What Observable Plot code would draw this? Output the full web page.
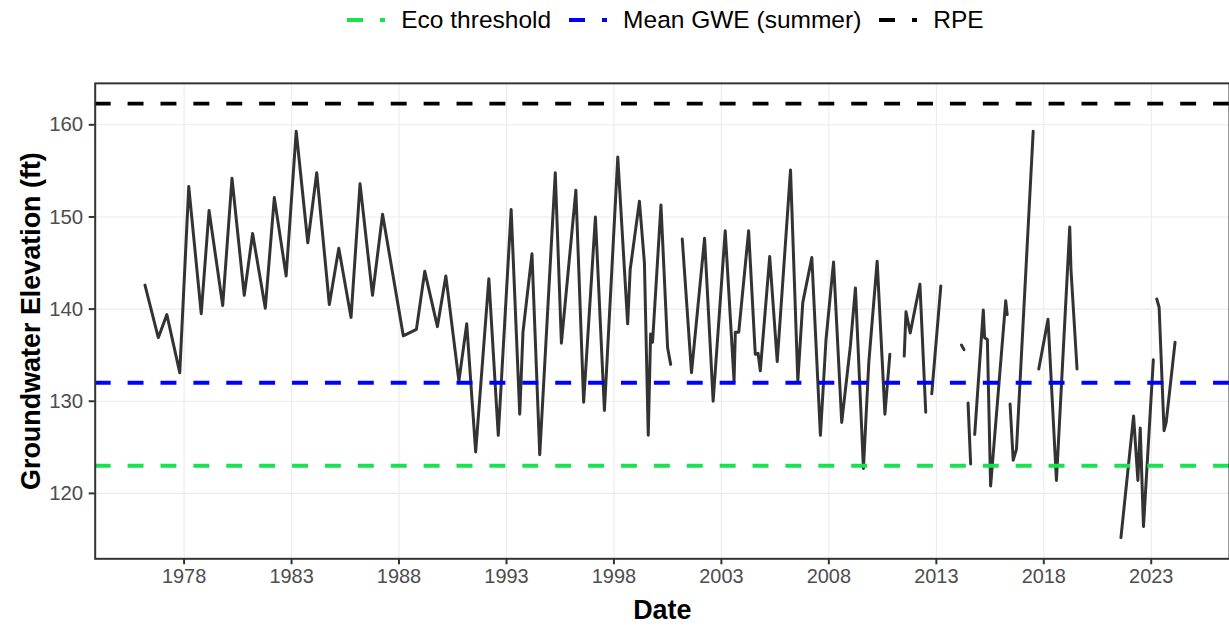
<!DOCTYPE html>
<html><head><meta charset="utf-8">
<script src="https://cdn.jsdelivr.net/npm/d3@7"></script>
<script src="https://cdn.jsdelivr.net/npm/@observablehq/plot@0.6"></script>
<style>
body{margin:0;overflow:hidden;background:#fff;font-family:"Liberation Sans",Arial,sans-serif}
#legend{height:40px;display:flex;align-items:center;justify-content:center;padding-left:102px;font-size:24.5px;color:#000;box-sizing:border-box;width:1229px}
.item{display:flex;align-items:center;margin-right:18px}
.item:last-child{margin-right:0}
.item svg{margin-right:16px}
</style></head>
<body><div id="legend"></div><div id="chart"></div>
<script>
// ---- data ----
const dates = [
"1976-03-07","1976-10-19","1977-03-14","1977-10-19","1978-03-21","1978-10-19","1979-03-01","1979-10-19","1980-03-25","1980-10-19",
"1981-03-10","1981-10-12","1982-03-14","1982-10-01","1983-03-21","1983-10-04","1984-03-04","1984-10-04","1985-03-14","1985-10-08",
"1986-03-10","1986-10-08","1987-03-28","1988-03-14","1988-10-23","1989-03-14","1989-10-15","1990-03-07","1990-10-15","1991-02-25",
"1991-07-27","1992-03-07","1992-08-14","1993-03-21","1993-08-14","1993-10-08","1994-03-10","1994-07-20","1995-04-10","1995-07-23",
"1996-03-25","1996-08-04","1997-02-20","1997-07-23","1998-03-07","1998-08-22","1998-10-04","1999-03-10","1999-06-03","1999-08-07",
"1999-09-16","1999-10-19","2000-03-10","2000-07-01","2000-08-22","2000-12-01","2001-03-07","2001-08-11","2002-03-21","2002-08-14",
"2003-03-07","2003-08-04","2003-08-26","2003-10-23","2004-04-08","2004-07-30","2004-09-16","2004-10-23","2005-04-01","2005-08-07",
"2006-03-21","2006-07-23","2006-10-15","2007-03-18","2007-08-11","2007-11-14","2008-03-21","2008-08-07","2009-01-01","2009-03-28",
"2009-08-11","2009-11-10","2010-04-01","2010-08-11","2010-11-03","2011-03-01","2011-07-05","2011-08-04","2011-10-15","2012-03-28",
"2012-07-05","2012-09-01","2012-10-15","2013-03-18","2013-09-01","2014-03-04","2014-04-16","2014-05-20","2014-06-24","2014-08-07",
"2014-09-10","2014-10-15","2015-03-10","2015-04-01","2015-05-18","2015-07-12","2016-03-25","2016-04-19","2016-05-15","2016-06-07",
"2016-07-30","2016-09-24","2017-07-05","2017-09-01","2017-10-08","2018-03-14","2018-08-04","2019-03-18","2019-04-08","2019-07-20",
"2020-06-01","2021-08-04","2022-03-07","2022-05-19","2022-06-28","2022-08-22","2023-02-06","2023-03-10","2023-04-05","2023-05-15",
"2023-08-07","2023-09-12","2024-02-10"
];
const gwe = [
142.6,136.9,139.4,133.1,153.3,139.5,150.7,140.4,154.2,141.5,
148.2,140.1,152.1,143.6,159.3,147.2,154.8,140.5,146.6,139.1,
153.6,141.5,150.3,137.1,137.8,144.1,138.1,143.6,132.2,138.4,
124.5,143.3,126.3,150.8,128.6,137.5,146.0,124.2,154.8,136.3,
152.9,129.9,150.0,129.0,156.5,138.4,144.3,151.7,145.0,126.3,
137.3,136.4,151.3,135.8,134.0,null,147.6,133.1,147.7,130.0,
148.5,132.2,137.5,137.5,148.5,135.1,135.2,133.3,145.7,134.3,
155.1,132.2,140.7,145.6,126.3,136.7,145.1,127.7,136.0,142.3,
122.7,134.2,145.2,128.6,135.1,null,134.9,139.7,137.4,142.7,
128.8,null,130.8,142.5,null,136.1,135.6,null,129.8,123.2,
null,126.4,139.9,136.9,136.7,120.8,140.9,139.4,null,129.7,
123.6,124.8,159.3,null,133.5,138.9,121.4,148.9,144.3,133.5,
null,115.2,128.4,121.4,127.1,116.4,134.5,null,141.1,140.2,
126.8,127.7,136.4
];
const refLabels = ["Eco threshold", "Mean GWE (summer)", "RPE"];
const refValues = [123.0, 132.0, 162.3];
const refColors = ["#17E34F", "#0000FF", "#000000"];
const xTickYears = [1978, 1983, 1988, 1993, 1998, 2003, 2008, 2013, 2018, 2023];
const yTickValues = [120, 130, 140, 150, 160];
const xTitle = "Date";
const yTitle = "Groundwater Elevation (ft)";

// ---- build ----
const series = dates.map((d, i) => ({date: new Date(d), gwe: gwe[i]}));
const xTicks = xTickYears.map(y => new Date(Date.UTC(y, 0, 1)));
const DASH = "16,17";

// legend
const legend = document.getElementById("legend");
refLabels.forEach((lab, i) => {
  const it = document.createElement("div");
  it.className = "item";
  it.innerHTML = `<svg width="38" height="10"><line x1="0" x2="38" y1="5" y2="5" stroke="${refColors[i]}" stroke-width="4" stroke-dasharray="${DASH}"/></svg><span>${lab}</span>`;
  legend.appendChild(it);
});

const chart = Plot.plot({
  width: 1233, height: 586,
  marginTop: 43, marginBottom: 66, marginLeft: 95, marginRight: 0,
  style: {fontFamily: "Liberation Sans, Arial, sans-serif", background: "#fff", overflow: "visible"},
  x: {type: "utc", domain: [new Date("1973-11-12"), new Date("2026-08-23")]},
  y: {domain: [112.9, 164.5]},
  marks: [
    Plot.gridX(xTicks, {stroke: "#EBEBEB", strokeOpacity: 1, strokeWidth: 1.1}),
    Plot.gridY(yTickValues, {stroke: "#EBEBEB", strokeOpacity: 1, strokeWidth: 1.1}),
    Plot.line(series, {x: "date", y: "gwe", stroke: "#333333", strokeWidth: 3}),
    ...refValues.map((v, i) => Plot.ruleY([v], {stroke: refColors[i], strokeWidth: 4, strokeDasharray: DASH})),
    Plot.frame({stroke: "#333333", strokeWidth: 2}),
    Plot.axisX(xTicks, {tickFormat: "%Y", tickSize: 6, tickPadding: 4, fontSize: 20, stroke: "#333333", strokeWidth: 2, fill: "#4D4D4D", label: null}),
    Plot.axisY(yTickValues, {tickSize: 6, tickPadding: 6, fontSize: 20.5, stroke: "#333333", strokeWidth: 2, fill: "#4D4D4D", label: null}),
    Plot.text([xTitle], {frameAnchor: "bottom", dy: 60, fontSize: 27, fontWeight: "bold", fill: "#000"}),
    Plot.text([yTitle], {frameAnchor: "left", textAnchor: "middle", dx: -64, rotate: -90, fontSize: 27, fontWeight: "bold", fill: "#000"})
  ]
});
document.getElementById("chart").appendChild(chart);
</script>
</body></html>
